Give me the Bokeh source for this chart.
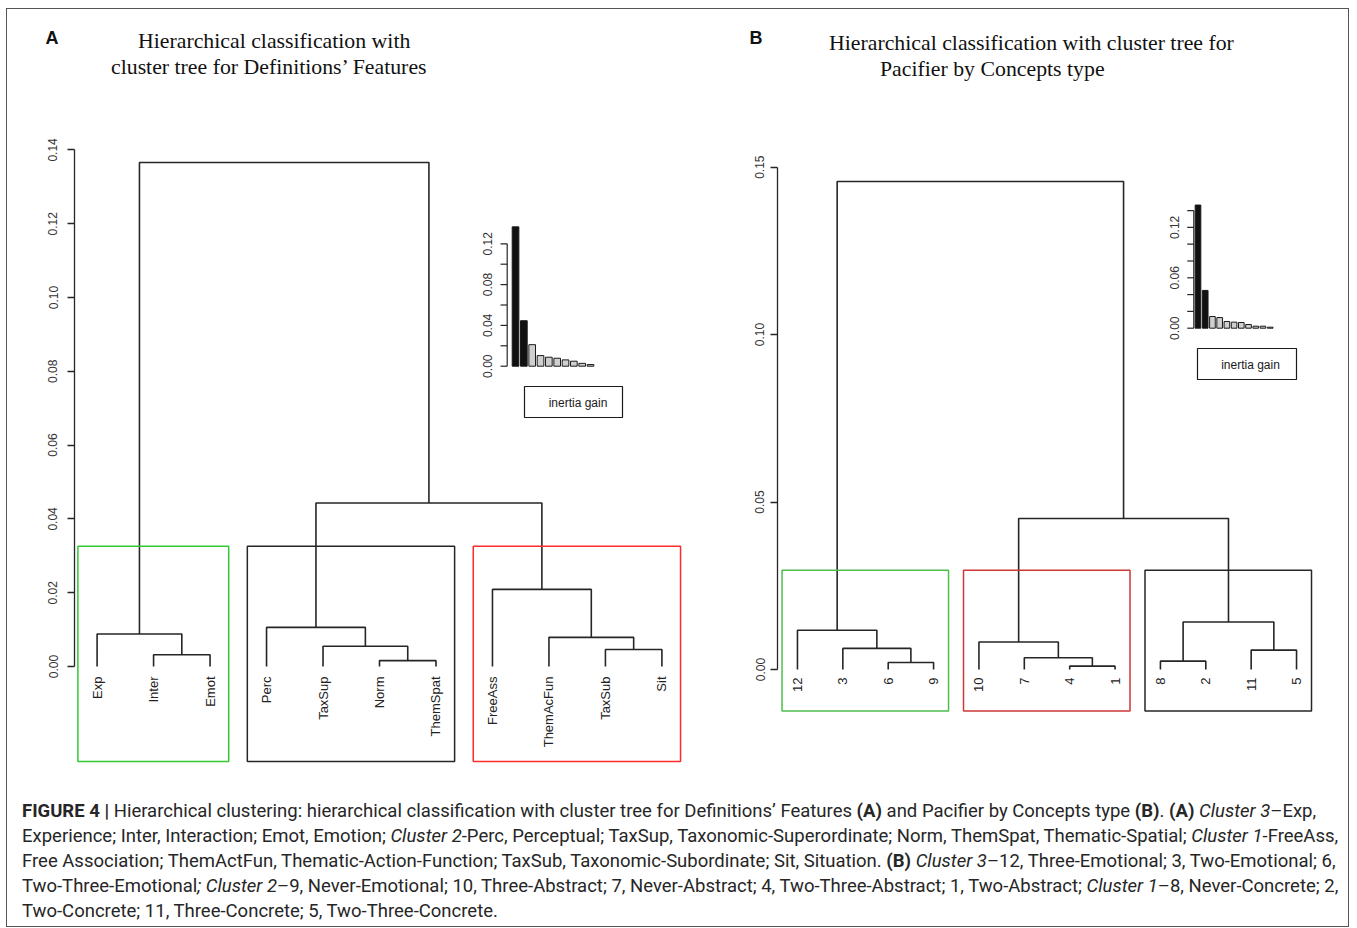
import math
from bokeh.plotting import figure
from bokeh.models import Range1d, Label, FixedTicker, NumeralTickFormatter, Div
from bokeh.layouts import column, row
from bokeh.core.properties import value
from bokeh.embed import file_html
from bokeh.resources import INLINE

# ---------------- data ----------------
A_leaves = ["Exp", "Inter", "Emot", "Perc", "TaxSup", "Norm", "ThemSpat",
            "FreeAss", "ThemAcFun", "TaxSub", "Sit"]
A_left = ["Inter", "Exp", "Norm", "TaxSup", "Perc", "TaxSub", "ThemAcFun", "FreeAss", "m4", "m1"]
A_right = ["Emot", "m0", "ThemSpat", "m2", "m3", "Sit", "m5", "m6", "m7", "m8"]
A_height = [0.0032, 0.0088, 0.0016, 0.0055, 0.0106, 0.0046, 0.0079, 0.0209, 0.0443, 0.1366]
A_gain = [0.1366, 0.0446, 0.0211, 0.0104, 0.0088, 0.0078, 0.0062, 0.0049, 0.0028, 0.0016]
A_cluster_sizes = [3, 4, 4]
A_ticks = [0.00, 0.02, 0.04, 0.06, 0.08, 0.10, 0.12, 0.14]
A_inset_ticks = [0.00, 0.02, 0.04, 0.06, 0.08, 0.10, 0.12]
A_inset_labels = [0.00, 0.04, 0.08, 0.12]

B_leaves = ["12", "3", "6", "9", "10", "7", "4", "1", "8", "2", "11", "5"]
B_left = ["6", "3", "12", "4", "7", "10", "8", "11", "m6", "m5", "m2"]
B_right = ["9", "m0", "m1", "1", "m3", "m4", "2", "5", "m7", "m8", "m9"]
B_height = [0.0021, 0.0063, 0.0117, 0.0010, 0.0035, 0.0082, 0.0025, 0.0058, 0.0142, 0.0451, 0.1457]
B_gain = [0.1466, 0.0450, 0.0139, 0.0127, 0.0080, 0.0072, 0.0068, 0.0044, 0.0024, 0.0024, 0.0012]
B_cluster_sizes = [4, 4, 4]
B_ticks = [0.00, 0.05, 0.10, 0.15]
B_inset_ticks = [0.00, 0.02, 0.04, 0.06, 0.08, 0.10, 0.12, 0.14]
B_inset_labels = [0.00, 0.06, 0.12]

A_title = ["Hierarchical classification with", "cluster tree for Definitions\u2019 Features"]
B_title = ["Hierarchical classification with cluster tree for", "Pacifier by Concepts type"]

PAGE_X0, PAGE_Y0 = 7, 9          # inside the outer border
HEAD_H = 86
FIG_TOP, FIG_BOT = PAGE_Y0 + HEAD_H, 779
FIG_H = FIG_BOT - FIG_TOP
LINE = "#262626"


def panel(leaves, left, right, height, gain, sizes, box_colors, ticks, inset_ticks,
          inset_labels, g):
    fl, fr = g["frame_left"], g["frame_right"]
    x0, x1 = g["xr"]
    xppu = (fr - fl) / (x1 - x0)

    def X(px):
        return x0 + (px - fl) / xppu

    def Y(py):
        return (g["zero"] - py) / g["ppu"]

    p = figure(width=g["width"], height=FIG_H, title=None,
               x_range=Range1d(x0, x1),
               y_range=Range1d(Y(FIG_BOT), Y(FIG_TOP)),
               x_axis_location=None, y_axis_location="left",
               min_border_left=fl - g["fig_left"], min_border_right=g["fig_left"] + g["width"] - fr,
               min_border_top=0, min_border_bottom=0,
               toolbar_location=None, output_backend="svg",
               outline_line_color=None, background_fill_color="white",
               border_fill_color="white")
    p.grid.visible = False
    ax = p.yaxis[0]
    ax.bounds = (ticks[0], ticks[-1])
    ax.ticker = FixedTicker(ticks=ticks, minor_ticks=[])
    ax.formatter = NumeralTickFormatter(format="0.00")
    ax.major_label_orientation = "parallel"
    ax.major_tick_in = 0
    ax.major_tick_out = 7
    ax.minor_tick_out = 0
    ax.axis_line_color = LINE
    ax.major_tick_line_color = LINE
    ax.axis_line_width = 1.3
    ax.major_tick_line_width = 1.3
    ax.major_label_standoff = g["standoff"]
    ax.major_label_text_font = "Liberation Sans"
    ax.major_label_text_font_size = "12px"
    ax.major_label_text_color = "#333333"

    # dendrogram
    pos = {n: i + 1 for i, n in enumerate(leaves)}
    hh = {n: 0.0 for n in leaves}
    xs, ys = [], []
    for k, (l, r, h) in enumerate(zip(left, right, height)):
        xl, xr = pos[l], pos[r]
        xs.append([xl, xl, xr, xr])
        ys.append([hh[l], h, h, hh[r]])
        pos["m%d" % k] = (xl + xr) / 2.0
        hh["m%d" % k] = h
    p.multi_line(xs, ys, line_color=LINE, line_width=1.6)

    p.text(x=list(range(1, len(leaves) + 1)), y=[0] * len(leaves), text=leaves,
           angle=math.pi / 2, text_align="right", text_baseline="middle",
           y_offset=g["leaf_off"], text_font=value("Liberation Sans"),
           text_font_size="13px", text_color="#222222")

    # cluster rectangles
    hs = sorted(height, reverse=True)
    k = len(sizes)
    top = (hs[k - 2] + hs[k - 1]) / 2.0
    cum = 0
    for s, c in zip(sizes, box_colors):
        p.quad(left=cum + 0.66, right=cum + s + 0.33, top=top, bottom=g["box_bottom"],
               fill_color=None, line_color=c, line_width=1.5)
        cum += s

    # inset: inertia gain
    ix0 = g["i_idx0"]
    isp = g["i_sp"]
    p.extra_x_ranges = {"ix": Range1d((fl - ix0) / isp, (fr - ix0) / isp)}
    p.extra_y_ranges = {"iy": Range1d((g["i_zero"] - FIG_BOT) / g["i_ppu"],
                                      (g["i_zero"] - FIG_TOP) / g["i_ppu"])}
    n = len(gain)
    cols = ["#111111"] * (k - 1) + ["#cfcfcf"] * (n - k + 1)
    p.vbar(x=list(range(1, n + 1)), top=gain, bottom=0, width=g["i_w"],
           fill_color=cols, line_color="#1a1a1a", line_width=1,
           x_range_name="ix", y_range_name="iy")
    axx = g["i_axis"]
    p.segment(x0=[axx], y0=[inset_ticks[0]], x1=[axx], y1=[inset_ticks[-1]],
              line_color=LINE, line_width=1.2, x_range_name="ix", y_range_name="iy")
    p.segment(x0=[axx] * len(inset_ticks), y0=inset_ticks,
              x1=[axx - g["i_tick"]] * len(inset_ticks), y1=inset_ticks,
              line_color=LINE, line_width=1.2, x_range_name="ix", y_range_name="iy")
    p.text(x=[axx] * len(inset_labels), y=inset_labels,
           text=["%.2f" % v for v in inset_labels], angle=math.pi / 2,
           text_align="center", text_baseline="middle", x_offset=g["i_lab_off"],
           text_font=value("Liberation Sans"), text_font_size="12px",
           text_color="#333333", x_range_name="ix", y_range_name="iy")

    # legend box "inertia gain"
    lb = g["leg"]
    p.quad(left=X(lb[0]), right=X(lb[1]), top=Y(lb[2]), bottom=Y(lb[3]),
           fill_color="white", line_color="#1a1a1a", line_width=1.2)
    p.add_layout(Label(x=X(g["leg_text"][0]), y=Y(g["leg_text"][1]), text="inertia gain",
                       text_font="Liberation Sans", text_font_size="12px",
                       text_align="center", text_baseline="middle", text_color="#1a1a1a"))
    return p


gA = dict(fig_left=PAGE_X0, width=693, frame_left=74, frame_right=684, xr=(0.6, 11.4),
          zero=666, ppu=3690, box_bottom=-0.02575, standoff=10, leaf_off=10,
          i_idx0=506.7, i_sp=8.33, i_w=0.8, i_axis=0.0, i_tick=0.8, i_lab_off=-20,
          i_zero=365.7, i_ppu=1020,
          leg=(524, 622, 386, 417), leg_text=(577.5, 402))
gB = dict(fig_left=700, width=648, frame_left=777, frame_right=1316, xr=(0.56, 12.44),
          zero=669, ppu=3349, box_bottom=-0.0124, standoff=6, leaf_off=8,
          i_idx0=1190.28, i_sp=7.22, i_w=0.78, i_axis=0.42, i_tick=0.91, i_lab_off=-19,
          i_zero=327.7, i_ppu=840,
          leg=(1197, 1296, 348, 379), leg_text=(1250, 364))

pA = panel(A_leaves, A_left, A_right, A_height, A_gain, A_cluster_sizes,
           ["#33c933", "#262626", "#ff2b2b"], A_ticks, A_inset_ticks, A_inset_labels, gA)
pB = panel(B_leaves, B_left, B_right, B_height, B_gain, B_cluster_sizes,
           ["#4cbf4c", "#cc3838", "#262626"], B_ticks, B_inset_ticks, B_inset_labels, gB)


# ---------------- header (panel letters and titles) ----------------
def span(txt, x, y, css, center=False):
    tr = "translate(-50%,-50%)" if center else "translateY(-50%)"
    return ('<div style="position:absolute; left:%dpx; top:%dpx; transform:%s; '
            'white-space:nowrap; line-height:1; %s">%s</div>' % (x - PAGE_X0, y - PAGE_Y0, tr, css, txt))


tag_css = "font-family:'Liberation Sans', Arial, sans-serif; font-weight:bold; font-size:18px; color:#111;"
tit_css = "font-family:'Liberation Serif', 'Times New Roman', serif; font-size:21.8px; color:#111;"
head_html = ('<div style="position:relative; width:1341px; height:%dpx; margin:0; padding:0;">' % HEAD_H
             + span("A", 52, 38, tag_css, center=True)
             + span(A_title[0], 138, 42, tit_css)
             + span(A_title[1], 111, 68, tit_css)
             + span("B", 756, 38, tag_css, center=True)
             + span(B_title[0], 829, 44, tit_css)
             + span(B_title[1], 880, 70, tit_css)
             + "</div>")
head = Div(text=head_html, width=1341, height=HEAD_H, margin=0)

caption_lines = [
    "<b>FIGURE 4 |</b> Hierarchical clustering: hierarchical classification with cluster tree for "
    "Definitions\u2019 Features <b>(A)</b> and Pacifier by Concepts type <b>(B)</b>. <b>(A)</b> "
    "<i>Cluster 3</i>\u2013Exp,",
    "Experience; Inter, Interaction; Emot, Emotion; <i>Cluster 2</i>-Perc, Perceptual; TaxSup, "
    "Taxonomic-Superordinate; Norm, ThemSpat, Thematic-Spatial; <i>Cluster 1</i>-FreeAss,",
    "Free Association; ThemActFun, Thematic-Action-Function; TaxSub, Taxonomic-Subordinate; Sit, "
    "Situation. <b>(B)</b> <i>Cluster 3</i>\u201312, Three-Emotional; 3, Two-Emotional; 6,",
    "Two-Three-Emotional<i>; Cluster 2</i>\u20139, Never-Emotional; 10, Three-Abstract; 7, "
    "Never-Abstract; 4, Two-Three-Abstract; 1, Two-Abstract; <i>Cluster 1</i>\u20138, "
    "Never-Concrete; 2,",
    "Two-Concrete; 11, Three-Concrete; 5, Two-Three-Concrete.",
]
CAP_H = 926 - FIG_BOT
cap_html = ('<div style="margin:0; padding:20px 0 0 15px; font-family:Roboto, sans-serif; font-size:18.5px; '
            'line-height:25px; color:#262626; white-space:nowrap;">'
            + "<br>".join(caption_lines) + "</div>")
cap = Div(text=cap_html, width=1341, height=CAP_H, margin=0)

layout = column(head, row(pA, pB), cap,
                styles={"border": "1px solid #555555", "background": "white",
                        "margin-left": "6px", "margin-top": "8px"})

open("out.html", "w").write(file_html(layout, INLINE))
